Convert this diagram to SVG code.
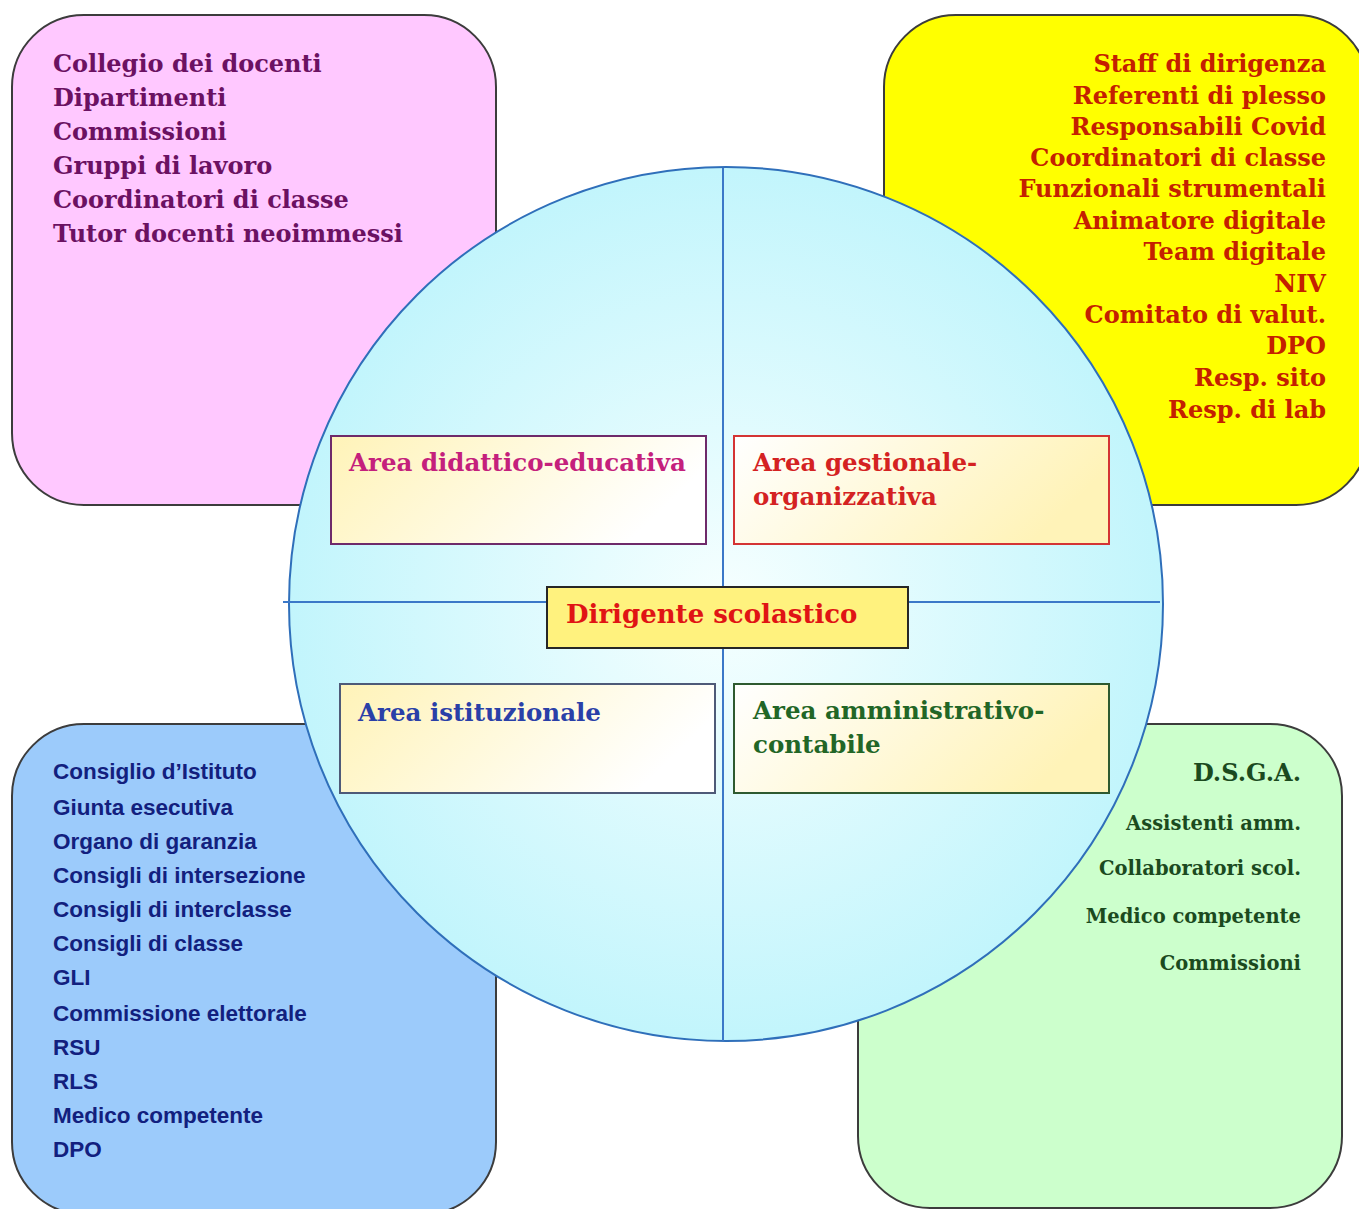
<svg xmlns="http://www.w3.org/2000/svg" width="1359" height="1209" viewBox="0 0 1359 1209">
<defs>
<radialGradient id="gCircle" cx="0.5" cy="0.5" r="0.5">
<stop offset="0" stop-color="#f6ffff"/>
<stop offset="1" stop-color="#c2f5fc"/>
</radialGradient>
<linearGradient id="gOutL" x1="0" y1="0" x2="1" y2="0.3">
<stop offset="0" stop-color="#fff3b8"/>
<stop offset="1" stop-color="#ffffff"/>
</linearGradient>
<linearGradient id="gOutR" x1="0" y1="0" x2="1" y2="0.3">
<stop offset="0" stop-color="#ffffff"/>
<stop offset="1" stop-color="#fff3b8"/>
</linearGradient>
<style>
.corner{stroke:#3c3c3c;stroke-width:2}
.serif{font-family:"DejaVu Serif","Liberation Serif",serif;font-weight:bold}
.sans{font-family:"Liberation Sans","Open Sans",sans-serif;font-weight:bold}
.axis{stroke:#3b78c8;stroke-width:2;fill:none}
.area{stroke-width:2}
</style>
</defs>
<rect width="1359" height="1209" fill="#ffffff"/>

<g id="node-pink">
<rect class="corner" x="12" y="15" width="484" height="490" rx="72" fill="#ffc8ff"/>
<g class="serif" font-size="24" fill="#6b1162">
<text x="53" y="72">Collegio dei docenti</text>
<text x="53" y="106">Dipartimenti</text>
<text x="53" y="140">Commissioni</text>
<text x="53" y="174">Gruppi di lavoro</text>
<text x="53" y="208">Coordinatori di classe</text>
<text x="53" y="242">Tutor docenti neoimmessi</text>
</g>
</g>

<g id="node-yellow">
<rect class="corner" x="884" y="15" width="484" height="490" rx="72" fill="#ffff00"/>
<g class="serif" font-size="24" fill="#c42000" text-anchor="end">
<text x="1326" y="72">Staff di dirigenza</text>
<text x="1326" y="104">Referenti di plesso</text>
<text x="1326" y="135">Responsabili Covid</text>
<text x="1326" y="166">Coordinatori di classe</text>
<text x="1326" y="197">Funzionali strumentali</text>
<text x="1326" y="229">Animatore digitale</text>
<text x="1326" y="260">Team digitale</text>
<text x="1326" y="292">NIV</text>
<text x="1326" y="323">Comitato di valut.</text>
<text x="1326" y="354">DPO</text>
<text x="1326" y="386">Resp. sito</text>
<text x="1326" y="418">Resp. di lab</text>
</g>
</g>

<g id="node-blue">
<rect class="corner" x="12" y="724" width="484" height="490" rx="72" fill="#9ccbfb"/>
<g class="sans" font-size="22.5" fill="#12207e">
<text x="53" y="779">Consiglio d’Istituto</text>
<text x="53" y="815">Giunta esecutiva</text>
<text x="53" y="849">Organo di garanzia</text>
<text x="53" y="883">Consigli di intersezione</text>
<text x="53" y="917">Consigli di interclasse</text>
<text x="53" y="951">Consigli di classe</text>
<text x="53" y="985">GLI</text>
<text x="53" y="1021">Commissione elettorale</text>
<text x="53" y="1055">RSU</text>
<text x="53" y="1089">RLS</text>
<text x="53" y="1123">Medico competente</text>
<text x="53" y="1157">DPO</text>
</g>
</g>

<g id="node-green">
<rect class="corner" x="858" y="724" width="484" height="484" rx="72" fill="#ccffcc"/>
<g class="serif" fill="#1b4a1e" text-anchor="end">
<text x="1301" y="781" font-size="24">D.S.G.A.</text>
<text x="1301" y="830" font-size="19.5">Assistenti amm.</text>
<text x="1301" y="875" font-size="19.5">Collaboratori scol.</text>
<text x="1301" y="923" font-size="19.5">Medico competente</text>
<text x="1301" y="970" font-size="19.5">Commissioni</text>
</g>
</g>

<g id="node-circle">
<circle cx="726" cy="604" r="437" fill="url(#gCircle)" stroke="#2f6fba" stroke-width="2"/>
</g>

<g id="connectors">
<line class="axis" x1="723" y1="168" x2="723" y2="1041"/>
<line class="axis" x1="283" y1="602" x2="1160" y2="602"/>
</g>

<g id="node-didattico">
<rect class="area" x="331" y="436" width="375" height="108" fill="url(#gOutL)" stroke="#6e2a6a"/>
<text class="serif" x="349" y="471" font-size="24.5" fill="#c4207c">Area didattico-educativa</text>
</g>

<g id="node-gestionale">
<rect class="area" x="734" y="436" width="375" height="108" fill="url(#gOutR)" stroke="#d43434"/>
<text class="serif" font-size="24.5" fill="#d42222"><tspan x="753" y="471">Area gestionale-</tspan><tspan x="753" y="505">organizzativa</tspan></text>
</g>

<g id="node-dirigente">
<rect x="547" y="587" width="361" height="61" fill="#fff27e" stroke="#262626" stroke-width="2"/>
<text class="serif" x="566" y="623" font-size="26" fill="#e01414">Dirigente scolastico</text>
</g>

<g id="node-istituzionale">
<rect class="area" x="340" y="684" width="375" height="109" fill="url(#gOutL)" stroke="#4e5a78"/>
<text class="serif" x="358" y="721" font-size="24.5" fill="#2a40a8">Area istituzionale</text>
</g>

<g id="node-amministrativo">
<rect class="area" x="734" y="684" width="375" height="109" fill="url(#gOutR)" stroke="#2e5a30"/>
<text class="serif" font-size="24.5" fill="#226626"><tspan x="753" y="719">Area amministrativo-</tspan><tspan x="753" y="753">contabile</tspan></text>
</g>
</svg>
